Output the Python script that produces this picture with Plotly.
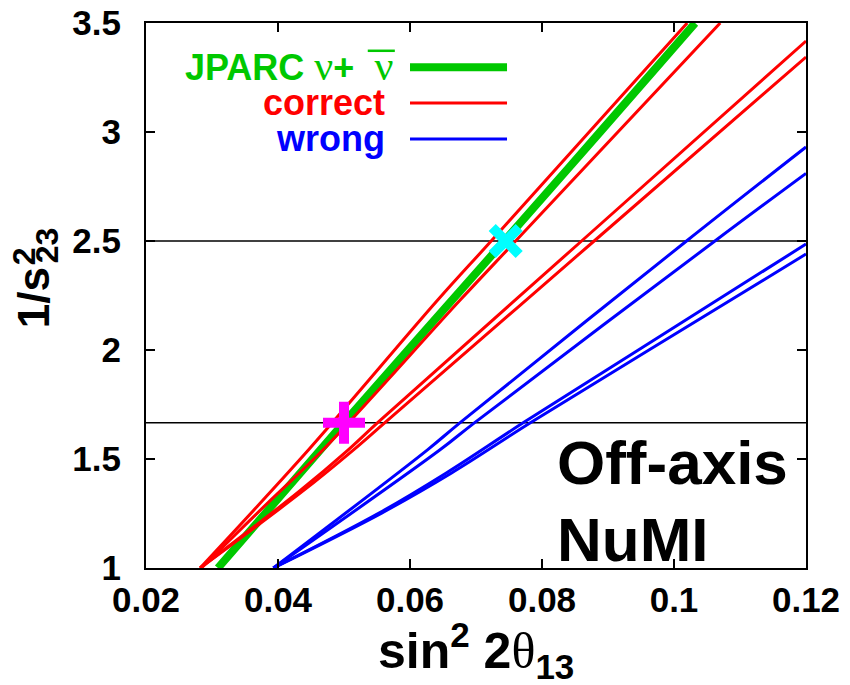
import plotly.graph_objects as go

# sin^2(2 theta13) versus 1/s23^2 along each solution curve
green_y = [1.0, 1.667, 2.5, 3.0, 3.5]
green_x = [0.0309, 0.0500, 0.0743, 0.0888, 0.1032]

red1_y = [1.0, 1.541, 2.229, 2.5, 3.5]
red1_x = [0.0282, 0.0446, 0.0642, 0.0723, 0.1020]
red2_y = [1.0, 1.3, 1.541, 2.229, 2.5, 3.5]
red2_x = [0.0284, 0.0385, 0.0468, 0.0676, 0.0760, 0.1070]
red3_y = [1.0, 1.349, 1.541, 1.667, 2.5, 3.417]
red3_x = [0.0282, 0.0431, 0.0506, 0.0551, 0.0860, 0.1200]
red4_y = [1.0, 1.349, 1.541, 1.667, 2.5, 3.344]
red4_x = [0.0282, 0.0436, 0.0514, 0.0562, 0.0879, 0.1200]

blue1_y = [1.0, 1.541, 1.667, 2.5, 2.931]
blue1_x = [0.0393, 0.0626, 0.0676, 0.1019, 0.1200]
blue2_y = [1.0, 1.541, 1.667, 2.5, 2.81]
blue2_x = [0.0393, 0.0645, 0.0698, 0.1062, 0.1200]
blue3_y = [1.0, 1.252, 1.436, 1.667, 2.0, 2.486]
blue3_x = [0.0393, 0.0553, 0.0655, 0.0772, 0.0946, 0.1200]
blue4_y = [1.0, 1.252, 1.436, 1.667, 2.0, 2.44]
blue4_x = [0.0393, 0.0557, 0.0663, 0.0783, 0.0962, 0.1200]

# reference levels: s23^2 = 0.4 and 0.6
hline_y = [2.5, 1 / 0.6]

# true point and its octant clone
true_pt = (0.0500, 1 / 0.6)
clone_pt = (0.0745, 2.5)

GREEN = "#00c800"
RED = "#ff0000"
BLUE = "#0000ff"
SANS = "Liberation Sans, Arial, sans-serif"
SERIF = "Liberation Serif, Times New Roman, serif"

fig = go.Figure()

fig.add_trace(go.Scatter(x=green_x, y=green_y, mode="lines",
                         line=dict(color=GREEN, width=8, shape="spline"),
                         showlegend=False))
for xs, ys in [(red1_x, red1_y), (red2_x, red2_y), (red3_x, red3_y), (red4_x, red4_y)]:
    fig.add_trace(go.Scatter(x=xs, y=ys, mode="lines",
                             line=dict(color=RED, width=3, shape="spline"),
                             showlegend=False))
for xs, ys in [(blue1_x, blue1_y), (blue2_x, blue2_y), (blue3_x, blue3_y), (blue4_x, blue4_y)]:
    fig.add_trace(go.Scatter(x=xs, y=ys, mode="lines",
                             line=dict(color=BLUE, width=3, shape="spline"),
                             showlegend=False))

fig.add_trace(go.Scatter(x=[true_pt[0]], y=[true_pt[1]], mode="markers",
                         marker=dict(symbol="cross-thin", size=30, color="#ff00ff",
                                     line=dict(width=10, color="#ff00ff")),
                         showlegend=False))
fig.add_trace(go.Scatter(x=[clone_pt[0]], y=[clone_pt[1]], mode="markers",
                         marker=dict(symbol="x-thin", size=27, color="#00ffff",
                                     line=dict(width=10, color="#00ffff")),
                         showlegend=False))

for yv in hline_y:
    fig.add_shape(type="line", xref="paper", x0=0, x1=1, yref="y", y0=yv, y1=yv,
                  line=dict(color="black", width=1.5), layer="below")

# hand-drawn key
key_rows = [(GREEN, 8, 0.919), (RED, 3, 0.853), (BLUE, 3, 0.787)]
for col, w, yk in key_rows:
    fig.add_shape(type="line", xref="paper", yref="paper", x0=0.40, x1=0.547,
                  y0=yk, y1=yk, line=dict(color=col, width=w))

serif_span = "<span style='font-family:" + SERIF + ";font-weight:normal;font-size:42px'>"
ann = []
ann.append(dict(text="JPARC\u00a0" + serif_span + "ν</span>+\u00a0\u00a0" + serif_span + "ν</span>",
                xref="paper", yref="paper", x=0.3773, y=0.922, xanchor="right", yanchor="middle",
                showarrow=False, font=dict(family=SANS, size=36, color=GREEN, weight="bold")))
fig.add_shape(type="line", xref="paper", yref="paper", x0=0.336, x1=0.377,
              y0=0.949, y1=0.949, line=dict(color=GREEN, width=2.5))
ann.append(dict(text="correct", xref="paper", yref="paper", x=0.365, y=0.854,
                xanchor="right", yanchor="middle", showarrow=False,
                font=dict(family=SANS, size=36, color=RED, weight="bold")))
ann.append(dict(text="wrong", xref="paper", yref="paper", x=0.365, y=0.788,
                xanchor="right", yanchor="middle", showarrow=False,
                font=dict(family=SANS, size=36, color=BLUE, weight="bold")))

ann.append(dict(text="Off-axis", xref="paper", yref="paper", x=0.6197, y=0.1927,
                xanchor="left", yanchor="middle", showarrow=False,
                font=dict(family=SANS, size=62, color="black", weight="bold")))
ann.append(dict(text="NuMI", xref="paper", yref="paper", x=0.6197, y=0.0514,
                xanchor="left", yanchor="middle", showarrow=False,
                font=dict(family=SANS, size=62, color="black", weight="bold")))

# axis titles
theta_span = "<span style='font-family:" + SERIF + ";font-weight:normal'>"
ann.append(dict(text="sin<sup>2</sup> 2" + theta_span + "θ</span><sub>13</sub>",
                xref="paper", yref="paper", x=0.5, y=0, yshift=-82,
                xanchor="center", yanchor="middle", showarrow=False,
                font=dict(family=SANS, size=50, color="black", weight="bold")))
ann.append(dict(text="1/s", xref="paper", yref="paper", x=0, y=0.495, xshift=-113,
                textangle=-90, xanchor="center", yanchor="middle", showarrow=False,
                font=dict(family=SANS, size=44, color="black", weight="bold")))
ann.append(dict(text="2", xref="paper", yref="paper", x=0, y=0.572, xshift=-122,
                textangle=-90, xanchor="center", yanchor="middle", showarrow=False,
                font=dict(family=SANS, size=32, color="black", weight="bold")))
ann.append(dict(text="23", xref="paper", yref="paper", x=0, y=0.592, xshift=-99,
                textangle=-90, xanchor="center", yanchor="middle", showarrow=False,
                font=dict(family=SANS, size=32, color="black", weight="bold")))

axis_common = dict(showline=True, linecolor="black", linewidth=2, mirror="ticks",
                   ticks="inside", ticklen=9, tickwidth=2, tickcolor="black",
                   showgrid=False, zeroline=False, automargin=False,
                   tickfont=dict(family=SANS, size=35, color="black", weight="bold"))

fig.update_layout(
    width=850, height=685, autosize=False,
    margin=dict(l=146, r=44, t=23, b=117),
    paper_bgcolor="white", plot_bgcolor="white",
    xaxis=dict(range=[0.02, 0.12], tickvals=[0.02, 0.04, 0.06, 0.08, 0.1, 0.12],
               ticktext=["0.02", "0.04", "0.06", "0.08", "0.1", "0.12"],
               ticklabelstandoff=0, **axis_common),
    yaxis=dict(range=[1, 3.5], tickvals=[1, 1.5, 2, 2.5, 3, 3.5],
               ticktext=["1", "1.5", "2", "2.5", "3", "3.5"],
               ticklabelstandoff=16, **axis_common),
    annotations=ann,
)

fig.write_html("out.html")
